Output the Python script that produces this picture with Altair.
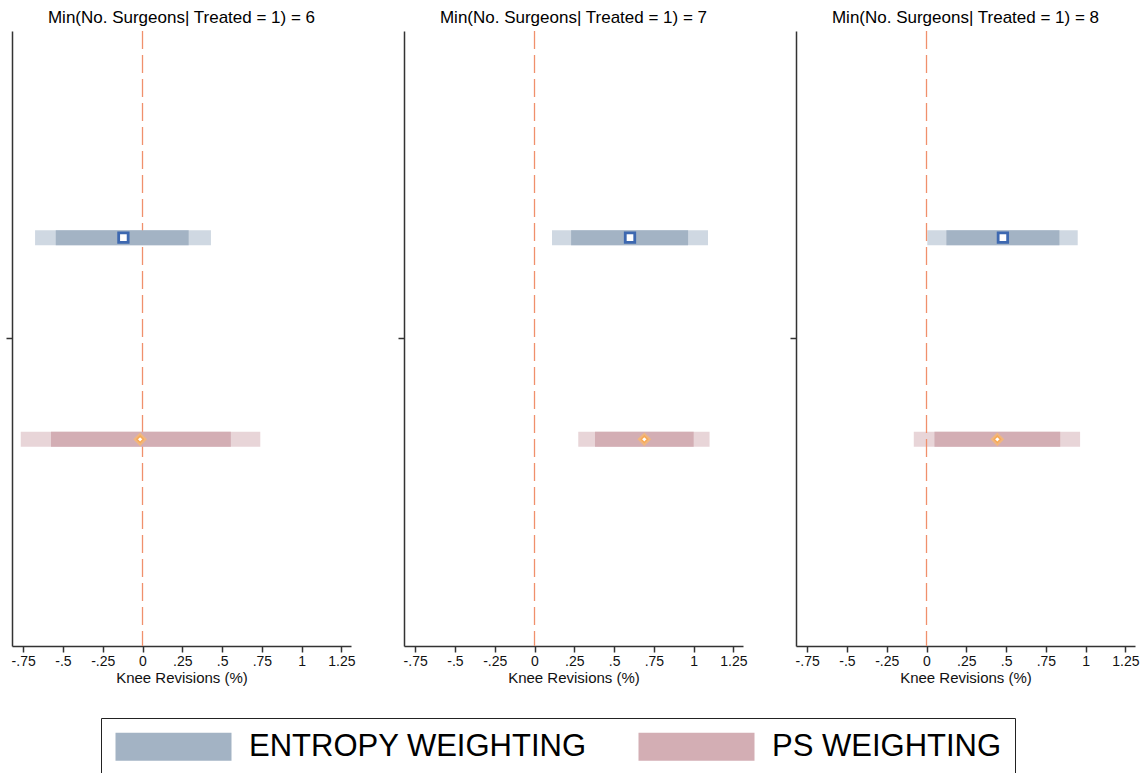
import json
import altair as alt
import pandas as pd

# ---------------- data ----------------
panel_k = [6, 7, 8]
series = ["ENTROPY WEIGHTING", "PS WEIGHTING"]

ent_est = [-0.12, 0.60, 0.48]
ent_outer_lo = [-0.675, 0.11, 0.005]
ent_outer_hi = [0.43, 1.09, 0.95]
ent_inner_lo = [-0.545, 0.23, 0.125]
ent_inner_hi = [0.29, 0.965, 0.835]

ps_est = [-0.015, 0.69, 0.445]
ps_outer_lo = [-0.765, 0.275, -0.08]
ps_outer_hi = [0.74, 1.10, 0.965]
ps_inner_lo = [-0.575, 0.38, 0.05]
ps_inner_hi = [0.555, 1.00, 0.84]

x_ticks = [-0.75, -0.5, -0.25, 0, 0.25, 0.5, 0.75, 1, 1.25]
ref_value = [0.0]

# ---------------- styling ----------------
FONT = "Liberation Sans"
inner_colors = ["#a3b3c4", "#d3aeb4"]
outer_colors = ["#cfd8e2", "#e8d5d8"]
blue = "#3d68b0"
orange = "#f7a955"
ref_color = "#f0906c"

rows = []
for i, k in enumerate(panel_k):
    rows.append(dict(k=k, series=series[0], est=ent_est[i], o_lo=ent_outer_lo[i], o_hi=ent_outer_hi[i],
                     i_lo=ent_inner_lo[i], i_hi=ent_inner_hi[i]))
    rows.append(dict(k=k, series=series[1], est=ps_est[i], o_lo=ps_outer_lo[i], o_hi=ps_outer_hi[i],
                     i_lo=ps_inner_lo[i], i_hi=ps_inner_hi[i]))
df = pd.DataFrame(rows)
ref_df = pd.DataFrame({"ref": ref_value})

xscale = alt.Scale(domain=[-0.82, 1.31], nice=False, zero=False)
yscale = alt.Scale(domain=[0, 3], reverse=True, nice=False, zero=False)

xaxis = alt.Axis(values=x_ticks,
                 labelExpr="replace(replace(format(datum.value, '~g'), '0.', '.'), '\u2212', '-')",
                 title="Knee Revisions (%)", grid=False, tickSize=6, labelPadding=2, titlePadding=2,
                 labelFontSize=14, titleFontSize=15, titleFontWeight="normal", labelFont=FONT, titleFont=FONT,
                 domainColor="#333", tickColor="#333", domainWidth=1.5, tickWidth=1.5, labelColor="#111",
                 titleColor="#111", labelFlush=False)
yaxis = alt.Axis(values=[1.5], labels=False, title=None, grid=False, tickSize=6,
                 domainColor="#333", tickColor="#333", domainWidth=1.5, tickWidth=1.5)

legend = alt.Legend(title=None, orient="none", legendX=89, legendY=687, direction="horizontal", columns=2,
                    symbolType="M-1,-1H7.2857V1H-1Z", symbolSize=784, symbolStrokeWidth=0, symbolOpacity=1,
                    labelFontSize=31, labelFont=FONT, labelLimit=800, labelOffset=104, labelColor="#000",
                    columnPadding=50, padding=13, strokeColor="#222")

row_expr = "indexof(%s, datum.series) + 1" % json.dumps(series)

X = lambda f: alt.X(f, scale=xscale, axis=xaxis)
Y = lambda f: alt.Y(f, scale=yscale, axis=yaxis)


def panel(k):
    base = alt.Chart(df).transform_filter(alt.datum.k == k).transform_calculate(row=row_expr)
    outers = [
        base.transform_filter(alt.datum.series == s).mark_bar(size=15, color=c).encode(
            x=X("o_lo:Q"), x2="o_hi:Q", y=Y("row:Q"))
        for s, c in zip(series, outer_colors)
    ]
    zero = alt.Chart(ref_df).mark_rule(color=ref_color, strokeDash=[18, 6], strokeWidth=1.3).encode(
        x=X("ref:Q"))
    inner = base.mark_bar(size=15).encode(
        x=X("i_lo:Q"),
        x2="i_hi:Q",
        y=Y("row:Q"),
        color=alt.Color("series:N", scale=alt.Scale(domain=series, range=inner_colors), legend=legend),
    )
    ent_pt = base.transform_filter(alt.datum.series == series[0]).mark_point(
        shape="square", fill="white", stroke=blue, strokeWidth=2.8, size=90, opacity=1, filled=False
    ).encode(x=X("est:Q"), y=Y("row:Q"))
    ps_glow = base.transform_filter(alt.datum.series == series[1]).mark_point(
        shape="diamond", filled=True, color="#f8b872", size=190, opacity=0.8
    ).encode(x=X("est:Q"), y=Y("row:Q"))
    ps_pt = base.transform_filter(alt.datum.series == series[1]).mark_point(
        shape="diamond", fill="white", stroke=orange, strokeWidth=1.5, size=40, opacity=1, filled=False
    ).encode(x=X("est:Q"), y=Y("row:Q"))
    return alt.layer(*outers, zero, inner, ent_pt, ps_glow, ps_pt).properties(
        width=339, height=615,
        title=alt.TitleParams(f"Min(No. Surgeons| Treated = 1) = {k}", fontSize=17, font=FONT,
                              fontWeight="normal", offset=3, anchor="middle", color="#000"),
    )


chart = alt.hconcat(*[panel(k) for k in panel_k], spacing=53, bounds="flush").configure_view(
    stroke=None
).properties(
    padding={"left": 5, "top": 9, "right": 0, "bottom": 0}, background="white"
)

chart.save("out.html", embed_options={"renderer": "svg", "actions": False})
